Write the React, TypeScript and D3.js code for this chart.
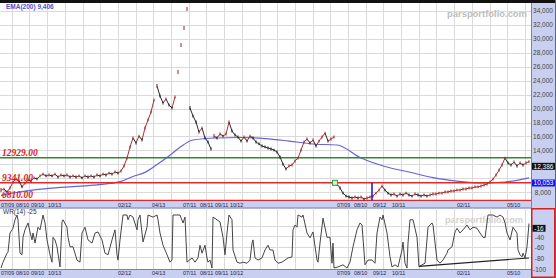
import React from "react";
import * as d3 from "d3";

// ---------- data ----------
const priceStepDays = 3;
const priceClose = [
  8300, 8450, 8030, 8600, 9450, 9900, 9600, 8750, 9300, 9750,
  9600, 10050, 9900, 10330, 10600, 10330, 10470, 10330, 10600, 10180,
  10470, 10330, 10470, 10180, 10330, 10180, 10330, 10050, 10330, 10180,
  10330, 10180, 10470, 10330, 10600, 10470, 10750, 10600, 10900, 10750,
  11040, 11760, 12900, 14480, 15780, 15060, 16060, 15490, 17210, 18360,
  19510, 21230, 23240, 21800, 20800, 21370, 20510, 20080, 21660, 25250,
  29120, 31560, 34290, 20080, 18930, 18070, 16640, 17210, 15780, 15200,
  14200, 16060, 15780, 16350, 16060, 16350, 18070, 16780, 16210, 15920,
  15340, 15920, 15340, 16060, 15780, 15200, 14920, 14630, 14490, 14340,
  14200, 14050, 13770, 13050, 12040, 11330, 11760, 11900, 12480, 12900,
  14050, 15200, 15630, 15060, 15490, 14630, 15340, 15920, 16490, 15340,
  15630, 15920, 9170, 8600, 7880, 7450, 7310, 7170, 7310, 7170,
  7310, 7020, 7170, 7310, 7450, 7880, 8310, 8890, 8310, 7880,
  7600, 7740, 7450, 7740, 7600, 7880, 7600, 7450, 7740, 7600,
  7450, 7600, 7450, 7600, 7740, 7740, 7880, 7880, 8030, 8030,
  8170, 8170, 8310, 8310, 8460, 8460, 8600, 8600, 8750, 8750,
  8890, 9030, 9170, 9460, 9890, 10470, 11180, 11900, 12900, 12190,
  11900, 12330, 11760, 12190, 11900, 12190, 12386,
];

const emaSeries: [number, number][] = [
  [0, 7550], [24, 8150], [48, 8550], [72, 8800], [96, 9050], [120, 9550],
  [132, 10250], [144, 10850], [156, 11960], [168, 13190], [180, 14560],
  [192, 15490], [216, 15780], [240, 15850], [264, 15700], [288, 15340],
  [312, 14920], [336, 14770], [360, 12900], [384, 11690], [408, 10900],
  [432, 10100], [456, 9600], [480, 9320], [504, 9460], [528, 10053],
];

const wrSeries: [number, number][] = [
  [0, -100], [2, -89], [6, -72], [7, -70], [9, -34], [12, -25], [14, -9], [16, 0], [17, -9], [19, -72],
  [21, -75], [22, -42], [24, -28], [27, -15], [29, -32], [31, -47], [32, -34], [34, -53], [37, -23], [39, -28],
  [42, 0], [44, -15], [46, -47], [49, -75], [51, -89], [52, -42], [54, -47], [56, -60], [59, -98], [61, -13],
  [62, -9], [66, -23], [67, -42], [69, -60], [72, -60], [76, -85], [79, -89], [81, -34], [84, -23], [87, -47],
  [91, -53], [94, -34], [97, -32], [101, -47], [104, -72], [107, -75], [111, -47], [114, -28], [116, -75], [117, -85],
  [119, -47], [122, 0], [126, 0], [127, -9], [129, 0], [132, -4], [136, -28], [137, -9], [139, 0], [142, -51],
  [146, -23], [147, 0], [152, -4], [156, 0], [157, -9], [159, -34], [162, -57], [166, -75], [169, -89], [171, -85],
  [172, 0], [179, 0], [182, -15], [184, -4], [186, -89], [191, -81], [194, -89], [197, -81], [199, -57], [201, -72],
  [204, -57], [206, -81], [207, -89], [209, -85], [211, -100], [212, -4], [216, -9], [219, -13], [222, -42], [224, -75],
  [226, -34], [228, 0], [231, -9], [232, -66], [236, -89], [239, -91], [242, -89], [246, -91], [249, -85], [251, -53],
  [252, -47], [254, -81], [257, -85], [261, -81], [264, -66], [267, -57], [269, -66], [272, -66], [274, -85], [277, -91],
  [281, -89], [284, -85], [287, -81], [291, -79], [292, -28], [294, -19], [296, -23], [297, 0], [301, -4], [302, 0],
  [306, -34], [309, -43], [312, -32], [316, -85], [317, -89], [319, -53], [322, -6], [326, -42], [329, -42], [331, -91],
  [332, -53], [333, -100], [337, -98], [342, -94], [346, -100], [349, -89], [352, -60], [356, -28], [359, -15], [361, -19],
  [364, -94], [367, -85], [371, -85], [374, -91], [376, -34], [379, -4], [381, -9], [382, 0], [386, -34], [389, -79],
  [391, -98], [394, -94], [397, -98], [401, -66], [402, -51], [404, -91], [406, -100], [407, -53], [409, -9], [412, -9],
  [416, -42], [418, -98], [421, -94], [424, -91], [427, -23], [431, -15], [432, -19], [436, -85], [439, -91], [442, -85],
  [446, -72], [447, -66], [451, -60], [454, -32], [456, -25], [459, -34], [462, -28], [466, -19], [469, -28], [472, -23],
  [476, -25], [479, -34], [482, -42], [484, -43], [487, 0], [492, 0], [496, -4], [499, 0], [502, -4], [504, -15],
  [506, -34], [509, -47], [512, -23], [516, -34], [517, -66], [519, -75], [521, -79], [522, -72], [524, -81], [526, -60],
  [528, -16],
];

const xTickDays = [0, 15, 30, 47, 117, 151, 182, 199, 214, 229, 336, 353, 372, 391, 456, 506];
const xTickLabels = ["07/09", "08/10", "09/10", "10/13", "02/12", "04/13", "07/11", "08/11", "09/11", "10/12", "07/09", "08/10", "09/12", "10/11", "02/11", "05/10"];
const priceTicks = [8000, 10000, 12000, 14000, 16000, 18000, 20000, 22000, 24000, 26000, 28000, 30000, 32000, 34000];
const wrTicks = [-20, -40, -60, -80, -100];
const levelValues = [12929, 9341, 6810];
const levelLabels = ["12929.00", "9341.00", "6810.00"];
const lastPrice = 12386;
const lastEma = 10053;
const lastWr = -16;
const emaTitle = "EMA(200) 9,406";
const wrTitle = "WR(14) -25";
const trendDays = [418, 528];
const trendValues = [-97, -81];
const markerDay = 334;
const markerValue = 9341;
const signalDay = 371;
const watermark = "parsportfolio.com";

// ---------- layout ----------
const W = 556;
const H = 278;
const PLOT_R = 531;
const MAIN_TOP = 3;
const MAIN_BOT = 201;
const WR_TOP = 208.5;
const WR_BOT = 269;
const LAV = "#c9cff0";
const STRIP_LINE = "#7580b8";
const FONT = "'Liberation Sans', Arial, sans-serif";
const TICK_LEN = 13.2;

export default function App() {
  const x = d3.scaleLinear().domain([0, 528]).range([1, 529]);
  const y = d3.scaleLinear().domain([8000, 34000]).range([192.2, 11]);
  const yw = d3.scaleLinear().domain([-100, 0]).range([268, 215]);
  const fmt = d3.format(",");

  const gridDays = d3.range(10.7, 528, 17.7);

  const emaLine = d3
    .line<[number, number]>()
    .x((d) => x(d[0]))
    .y((d) => y(d[1]))
    .curve(d3.curveMonotoneX);
  const wrLine = d3
    .line<[number, number]>()
    .x((d) => x(d[0]))
    .y((d) => yw(d[1]));

  // value boxes on the right axis hide the grid labels beneath them
  const priceBoxes = [lastPrice, lastEma].map((v) => [y(v) + 1.2, y(v) + 8.6]);
  const visiblePriceTicks = priceTicks.filter((v) => {
    const c = y(v);
    return !priceBoxes.some(([a, b]) => c + 2.5 > a && c - 2.5 < b);
  });
  const wrBox = [yw(lastWr) + 1.4, yw(lastWr) + 8.2];
  const visibleWrTicks = wrTicks.filter((v) => {
    const c = yw(v) + 1.3;
    return !(c + 2.5 > wrBox[0] && c - 2.5 < wrBox[1]);
  });

  const pts = priceClose.map((c, i) => ({ px: x(i * priceStepDays), py: y(c), c }));
  const segs: React.ReactNode[] = [];
  const ticks: React.ReactNode[] = [];
  pts.forEach((p, i) => {
    const prev = i > 0 ? pts[i - 1] : null;
    const up = prev ? p.c >= prev.c : true;
    const color = up ? "#a83232" : "#2a2a2a";
    const joined = prev && Math.abs(p.py - prev.py) <= 12;
    if (prev && joined) {
      segs.push(
        <line key={"s" + i} x1={prev.px} y1={prev.py} x2={p.px} y2={p.py} stroke={color} strokeWidth={1} />
      );
    }
    const h = joined ? 1.4 : 2;
    ticks.push(
      <line key={"t" + i} x1={p.px} x2={p.px} y1={p.py - h} y2={p.py + h} stroke={color} strokeWidth={1.1} />
    );
  });

  return (
    <svg
      width={W}
      height={H}
      viewBox={`0 0 ${W} ${H}`}
      style={{ position: "absolute", left: 0, top: 0, display: "block", background: "#fff" }}
    >
      <defs>
        <clipPath id="mainClip">
          <rect x={0} y={MAIN_TOP} width={PLOT_R} height={MAIN_BOT - MAIN_TOP + 1} />
        </clipPath>
        <clipPath id="wrClip">
          <rect x={0} y={WR_TOP} width={PLOT_R} height={WR_BOT - WR_TOP} />
        </clipPath>
      </defs>

      <rect x={0} y={0} width={W} height={H} fill="#fff" />

      {/* main grid */}
      <g stroke="#dadada" strokeWidth={1}>
        {priceTicks.map((v) => (
          <line key={"hg" + v} x1={0} x2={PLOT_R} y1={Math.round(y(v)) + 0.5} y2={Math.round(y(v)) + 0.5} />
        ))}
        {gridDays.map((d, i) => (
          <line key={"vg" + i} x1={Math.round(x(d)) + 0.5} x2={Math.round(x(d)) + 0.5} y1={MAIN_TOP} y2={MAIN_BOT} />
        ))}
      </g>

      {/* watermark */}
      <text x={447} y={16.5} fontFamily={FONT} fontWeight="bold" fontSize={9.5} fill="#bdbdbd" textLength={80} lengthAdjust="spacingAndGlyphs">
        {watermark}
      </text>

      <g clipPath="url(#mainClip)">
        <path d={emaLine(emaSeries) || ""} fill="none" stroke="#6464dc" strokeWidth={1.2} />
        {levelValues.map((v, i) => (
          <line
            key={"lv" + i}
            x1={0}
            x2={PLOT_R}
            y1={y(v)}
            y2={y(v)}
            stroke={i === 0 ? "#2f8a2f" : "#dd2a2a"}
            strokeWidth={1.5}
          />
        ))}
        {segs}
        {ticks}
        <line x1={x(signalDay)} x2={x(signalDay)} y1={y(levelValues[1])} y2={y(levelValues[2])} stroke="#1f1fe6" strokeWidth={1.6} />
        <rect x={x(markerDay) - 2.5} y={y(markerValue) - 2.5} width={5} height={5} fill="#d6f0c8" stroke="#3c9a3c" strokeWidth={1} />
      </g>

      {levelValues.map((v, i) => (
        <text
          key={"ll" + i}
          x={2}
          y={y(v) - 2.2}
          fontFamily="'Liberation Serif', 'Times New Roman', serif"
          fontStyle="italic"
          fontWeight="bold"
          fontSize={9.5}
          fill="#e01818"
        >
          {levelLabels[i]}
        </text>
      ))}

      <text x={6} y={8.8} fontFamily={FONT} fontWeight="bold" fontSize={6.5} fill="#4f4fd2">
        {emaTitle}
      </text>

      <rect x={0} y={0} width={W} height={MAIN_TOP} fill="#111" />

      {/* main right axis */}
      <rect x={PLOT_R} y={MAIN_TOP} width={W - PLOT_R} height={WR_TOP - MAIN_TOP} fill={LAV} />
      <line x1={PLOT_R + 0.5} x2={PLOT_R + 0.5} y1={MAIN_TOP} y2={WR_TOP} stroke={STRIP_LINE} strokeWidth={1} />
      {visiblePriceTicks.map((v) => (
        <text key={"pt" + v} x={543} y={y(v) + 2.3} textAnchor="middle" fontFamily={FONT} fontSize={6.5} fill="#444">
          {fmt(v)}
        </text>
      ))}
      <rect x={532} y={y(lastPrice) + 1.2} width={23} height={7} fill="#111" />
      <text x={543.5} y={y(lastPrice) + 7.1} textAnchor="middle" fontFamily={FONT} fontSize={6.5} fill="#fff">
        {fmt(lastPrice)}
      </text>
      <rect x={532} y={y(lastEma) + 1.6} width={23} height={7} fill="#1414ee" />
      <text x={543.5} y={y(lastEma) + 7.5} textAnchor="middle" fontFamily={FONT} fontSize={6.5} fill="#fff">
        {fmt(lastEma)}
      </text>

      {/* top date strip */}
      <rect x={0} y={MAIN_BOT} width={PLOT_R} height={WR_TOP - MAIN_BOT} fill={LAV} />
      <line x1={0} x2={PLOT_R} y1={WR_TOP - 0.5} y2={WR_TOP - 0.5} stroke={STRIP_LINE} strokeWidth={1} />
      {xTickDays.map((d, i) => (
        <text key={"xa" + i} x={x(d)} y={207} fontFamily={FONT} fontSize={6.2} fill="#1a2550" textLength={TICK_LEN} lengthAdjust="spacingAndGlyphs">
          {xTickLabels[i]}
        </text>
      ))}

      {/* WR panel */}
      <g stroke="#dadada" strokeWidth={1}>
        {wrTicks.slice(0, 4).map((v) => (
          <line key={"wg" + v} x1={0} x2={PLOT_R} y1={Math.round(yw(v)) + 0.5} y2={Math.round(yw(v)) + 0.5} />
        ))}
        {gridDays.map((d, i) => (
          <line key={"wv" + i} x1={Math.round(x(d)) + 0.5} x2={Math.round(x(d)) + 0.5} y1={WR_TOP} y2={WR_BOT} />
        ))}
      </g>
      <text x={445} y={223} fontFamily={FONT} fontWeight="bold" fontSize={9.5} fill="#d2d2d2" textLength={78} lengthAdjust="spacingAndGlyphs">
        {watermark}
      </text>
      <g clipPath="url(#wrClip)">
        <path d={wrLine(wrSeries) || ""} fill="none" stroke="#444" strokeWidth={1} />
        <line
          x1={x(trendDays[0])}
          y1={yw(trendValues[0])}
          x2={x(trendDays[1])}
          y2={yw(trendValues[1])}
          stroke="#222"
          strokeWidth={1.1}
        />
      </g>
      <text x={3} y={214} fontFamily={FONT} fontSize={6.5} fill="#333">
        {wrTitle}
      </text>

      {/* bottom date strip */}
      <rect x={0} y={WR_BOT} width={PLOT_R} height={H - WR_BOT} fill={LAV} />
      <line x1={0} x2={PLOT_R} y1={WR_BOT + 0.5} y2={WR_BOT + 0.5} stroke={STRIP_LINE} strokeWidth={1} />
      {xTickDays.map((d, i) => (
        <text key={"xb" + i} x={x(d)} y={275} fontFamily={FONT} fontSize={6.2} fill="#1a2550" textLength={TICK_LEN} lengthAdjust="spacingAndGlyphs">
          {xTickLabels[i]}
        </text>
      ))}

      {/* WR right axis */}
      <rect x={PLOT_R + 0.75} y={WR_TOP + 0.25} width={W - PLOT_R - 2} height={H - WR_TOP - 1} fill={LAV} stroke="#d42020" strokeWidth={1.5} />
      {visibleWrTicks.map((v) => (
        <text key={"wt" + v} x={539.5} y={yw(v) + 3.6} textAnchor="middle" fontFamily={FONT} fontSize={6.5} fill="#444">
          {v}
        </text>
      ))}
      <rect x={532.5} y={wrBox[0]} width={13} height={wrBox[1] - wrBox[0]} fill="#111" />
      <text x={539} y={yw(lastWr) + 7.1} textAnchor="middle" fontFamily={FONT} fontSize={6.5} fill="#fff">
        {lastWr}
      </text>

      <line x1={555.5} x2={555.5} y1={0} y2={H} stroke="#666" strokeWidth={1} />
    </svg>
  );
}
